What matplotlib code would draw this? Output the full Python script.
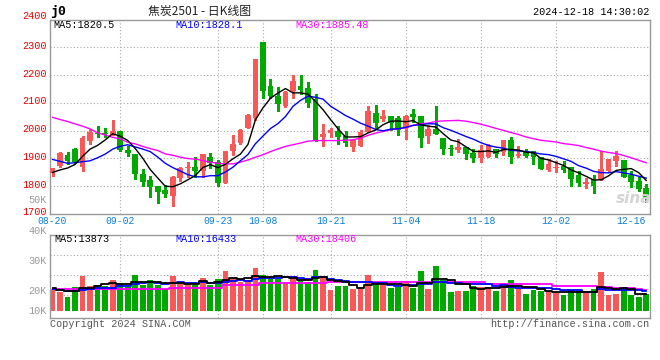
import numpy as np
import pandas as pd
import matplotlib
matplotlib.use("Agg")
import matplotlib.pyplot as plt
import matplotlib.transforms as mtransforms

# ---------------- data ----------------
holidays = ["2024-09-16", "2024-09-17", "2024-10-01", "2024-10-02", "2024-10-03",
            "2024-10-04", "2024-10-07"]
dates = [d for d in pd.bdate_range("2024-08-20", "2024-12-18").strftime("%Y-%m-%d")
         if d not in holidays]

open_ = [1846, 1873, 1913, 1935, 1867, 1961, 1990, 1992, 1984, 2000,
         1931, 1916, 1843, 1823, 1800, 1785, 1764, 1829, 1866, 1868,
         1853, 1903, 1885, 1811, 1925, 1954, 2008, 2045, 2321, 2160,
         2125, 2089, 2143, 2160, 2154, 2113, 1976, 1990, 2000, 1982,
         1941, 1943, 1995, 2064, 2043, 2051, 2046, 2009, 2060, 2051,
         1980, 2004, 1974, 1938, 1929, 1941, 1920, 1902, 1903, 1932,
         1923, 1965, 1909, 1926, 1926, 1905, 1857, 1866, 1872, 1867,
         1838, 1806, 1825, 1822, 1854, 1890, 1893, 1838, 1818, 1794]
high = [1866, 1924, 1922, 1937, 1982, 2006, 2018, 2010, 2037, 2000,
        1946, 1916, 1861, 1837, 1800, 1805, 1836, 1868, 1888, 1904,
        1916, 1918, 1894, 1928, 1985, 2004, 2060, 2257, 2321, 2187,
        2157, 2143, 2199, 2199, 2176, 2133, 2023, 2011, 2017, 2000,
        1968, 2001, 2090, 2094, 2076, 2054, 2051, 2057, 2078, 2051,
        2019, 2087, 1974, 1947, 1968, 1941, 1935, 1947, 1953, 1932,
        1965, 1977, 1944, 1932, 1926, 1905, 1899, 1890, 1891, 1867,
        1854, 1830, 1838, 1926, 1897, 1927, 1893, 1854, 1833, 1807]
low = [1835, 1867, 1879, 1882, 1855, 1951, 1976, 1977, 1984, 1928,
       1910, 1825, 1801, 1761, 1737, 1761, 1729, 1818, 1832, 1832,
       1832, 1865, 1799, 1811, 1913, 1952, 2008, 2038, 2119, 2119,
       2071, 2085, 2119, 2131, 2085, 1964, 1943, 1976, 1952, 1946,
       1926, 1943, 1995, 2007, 2034, 2003, 1983, 1971, 2031, 1941,
       1955, 1986, 1917, 1911, 1923, 1896, 1885, 1885, 1903, 1905,
       1911, 1884, 1903, 1905, 1881, 1860, 1854, 1851, 1851, 1801,
       1801, 1794, 1774, 1822, 1849, 1872, 1833, 1798, 1783, 1744]
close = [1864, 1919, 1892, 1886, 1975, 1994, 1987, 1988, 2000, 1930,
         1918, 1842, 1813, 1795, 1777, 1770, 1832, 1865, 1868, 1853,
         1916, 1884, 1811, 1928, 1951, 2002, 2057, 2257, 2143, 2125,
         2095, 2139, 2178, 2145, 2101, 1964, 1988, 2002, 1976, 1954,
         1965, 1995, 2069, 2027, 2051, 2027, 2001, 2054, 2048, 1973,
         2004, 1986, 1932, 1935, 1941, 1915, 1902, 1929, 1947, 1915,
         1965, 1905, 1917, 1908, 1905, 1863, 1878, 1868, 1857, 1825,
         1810, 1815, 1801, 1861, 1897, 1908, 1833, 1816, 1788, 1756]
volume = [19600, 16900, 12400, 21400, 31300, 22300, 23200, 22300, 27700, 25000,
          21400, 32200, 23200, 27700, 23200, 19600, 31300, 25000, 23200, 23200,
          29500, 23200, 28600, 35800, 29500, 25900, 27700, 38500, 32200, 28600,
          28600, 25000, 31300, 26800, 25900, 36700, 31300, 18700, 22300, 22300,
          19600, 21400, 32200, 23200, 23200, 20500, 21400, 26800, 20500, 35800,
          19600, 40300, 27700, 16900, 17800, 17800, 22300, 21400, 21400, 17800,
          25000, 27700, 19600, 15100, 18700, 17800, 17800, 16000, 14200, 18700,
          17800, 16000, 19600, 34900, 14200, 15100, 19600, 14200, 12400, 15100]

ma5_head = [1849, 1858, 1865, 1878]
ma10_head = [1896, 1889, 1882, 1884, 1888, 1891, 1902, 1915, 1933]
ma30 = [2048, 2040, 2033, 2024, 2016, 2006, 1992, 1984, 1976, 1970,
        1958, 1952, 1943, 1935, 1928, 1916, 1911, 1904, 1899, 1897,
        1892, 1886, 1882, 1880, 1880, 1886, 1894, 1904, 1913, 1924,
        1934, 1943, 1949, 1955, 1962, 1964, 1964, 1964, 1964, 1965,
        1967, 1973, 1983, 1991, 1997, 2003, 2007, 2010, 2019, 2025,
        2027, 2033, 2035, 2036, 2037, 2034, 2029, 2023, 2016, 2008,
        2001, 1993, 1986, 1977, 1971, 1965, 1962, 1959, 1953, 1950,
        1946, 1939, 1933, 1926, 1921, 1917, 1910, 1902, 1893, 1884]
vma5_head = [20200, 18500, 18000, 18200]
vma10_head = [19600, 19000, 18200, 18200, 18400, 19800, 20200, 20200, 20400]
vma30 = [19300, 19300, 19300, 19300, 19300, 19300, 19300, 19400, 19400, 19400,
         19400, 19500, 19500, 19500, 19500, 19500, 20800, 20800, 20800, 20800,
         20800, 20800, 20800, 22900, 22900, 22900, 22900, 22900, 24700, 24700,
         24700, 24700, 24700, 24700, 24700, 24700, 24700, 26200, 26200, 26200,
         26200, 26200, 26200, 26200, 26200, 26200, 26200, 26200, 26200, 26200,
         26200, 26200, 26200, 26200, 26200, 26200, 26200, 26200, 23800, 23800,
         23800, 23800, 23800, 23800, 23800, 23800, 23800, 22300, 22300, 22300,
         22300, 22300, 22300, 21000, 21000, 20200, 20200, 20200, 19300, 18400]

price_ticks = [1700, 1800, 1900, 2000, 2100, 2200, 2300, 2400]
date_ticks = ["08-20", "09-02", "09-23", "10-08", "10-21", "11-04", "11-18", "12-02", "12-16"]
vol_tick_labels = ["50K", "40K", "30K", "20K", "10K"]
ma_price_labels = ["MA5:1820.5", "MA10:1828.1", "MA30:1885.48"]
ma_vol_labels = ["MA5:13873", "MA10:16433", "MA30:18406"]
title_text = "焦炭2501 - 日K线图"
symbol_text = "j0"
stamp_text = "2024-12-18 14:30:02"

# ---------------- derived ----------------
o = np.array(open_, float); h = np.array(high, float)
l = np.array(low, float); c = np.array(close, float)
v = np.array(volume, float)
n = len(c)
x = np.arange(n)

ma5 = pd.Series(c).rolling(5).mean().to_numpy()
ma5[:len(ma5_head)] = ma5_head
ma10 = pd.Series(c).rolling(10).mean().to_numpy()
ma10[:len(ma10_head)] = ma10_head
vma5 = pd.Series(v).rolling(5).mean().to_numpy()
vma5[:len(vma5_head)] = vma5_head
vma10 = pd.Series(v).rolling(10).mean().to_numpy()
vma10[:len(vma10_head)] = vma10_head

up = c >= o
RED = "#f85858"
GRN = "#00a800"
cols = np.where(up, RED, GRN)

# ---------------- figure ----------------
W, H = 660, 360
fig = plt.figure(figsize=(W / 100, H / 100), dpi=100)
fig.patch.set_facecolor("white")

def fx(px):
    return px / W

def fy(py):
    return 1 - py / H

MONO = ["Liberation Mono", "DejaVu Sans Mono"]
GRID = dict(color="#a8a8a8", lw=0.8, ls=(0, (1, 2)))
FRAME = "#999999"

ax = fig.add_axes([fx(50.5), fy(214), (649.5 - 50.5) / W, (214 - 19.5) / H])
vax = fig.add_axes([fx(50.5), fy(317.7), (649.5 - 50.5) / W, (317.7 - 234.7) / H])

xlim = (-0.27, 79.44)
for a in (ax, vax):
    a.set_xlim(*xlim)
    a.set_xticks([])
    a.set_yticks([])
    for s in a.spines.values():
        s.set_color(FRAME)
        s.set_linewidth(1.0)

ax.set_ylim(1699, 2401)
vax.set_ylim(-6400, 68800)

# grid
tick_idx = [i for i, d in enumerate(dates) if d[5:] in date_ticks]
for i in tick_idx:
    if 0 < i < 75:
        ax.axvline(i, **GRID, zorder=0)
        vax.axvline(i, **GRID, zorder=0)
for p in price_ticks[1:-1]:
    ax.axhline(p, **GRID, zorder=0)
for gv in [13900, 31900, 50100]:
    vax.axhline(gv, **GRID, zorder=0)

# candles
bw = 0.76
body_lo = np.minimum(o, c)
body_h = np.maximum(np.abs(c - o), 3.6)
ax.vlines(x, l, h, colors=cols, lw=1.0, zorder=2, antialiased=False)
ax.bar(x, body_h, bottom=body_lo, width=bw, color=cols, lw=0, zorder=3,
       antialiased=False)

# MAs
ax.plot(x, ma30, color="#ff00ff", lw=1.0, zorder=4)
ax.plot(x, ma10, color="#0000ff", lw=1.0, zorder=5)
ax.plot(x, ma5, color="#000000", lw=1.0, zorder=6)

# volume
vax.bar(x, v, width=bw, color=cols, lw=0, zorder=2, antialiased=False)
vax.plot(x, vma30, color="#ff00ff", lw=1.3, drawstyle="steps-mid", zorder=3)
vax.plot(x, vma10, color="#0000ff", lw=1.3, drawstyle="steps-mid", zorder=4)
vax.plot(x, vma5, color="#000000", lw=1.3, drawstyle="steps-mid", zorder=5)

# price labels
ytr = ax.get_yaxis_transform()
for p in price_ticks:
    off = 4.0 if p == price_ticks[-1] else 1.5
    tr = mtransforms.offset_copy(ytr, fig=fig, x=-3.8, y=off, units="dots")
    ax.text(0, p, str(p), transform=tr, ha="right", va="center",
            color="#e60000", fontsize=7.3, family=MONO)

# volume axis labels
for lab, py in zip(vol_tick_labels, [200, 231, 261.3, 290.7, 310.7]):
    fig.text(fx(46.7), fy(py), lab, ha="right", va="center", color="#999999",
             fontsize=7.3, family=MONO)

# date labels
xtr = ax.get_xaxis_transform()
for i in tick_idx:
    ax.text(i, -(220.7 - 214) / 194.5, dates[i][5:], transform=xtr, ha="center",
            va="center", color="#0b7fd4", fontsize=7.0, family=MONO)

# legends
for lab, px, col in zip(ma_price_labels, [53.3, 175, 295], ["#000000", "#0000ff", "#ff00ff"]):
    fig.text(fx(px), fy(24.5), lab, ha="left", va="center", color=col,
             fontsize=7.3, family=MONO)
for lab, px, col in zip(ma_vol_labels, [54, 175, 295], ["#000000", "#0000ff", "#ff00ff"]):
    fig.text(fx(px), fy(238.5), lab, ha="left", va="center", color=col,
             fontsize=7.3, family=MONO)

# header
fig.text(fx(50.5), fy(11), symbol_text, ha="left", va="center", color="#000000",
         fontsize=9.5, fontweight="bold", family=["DejaVu Sans Mono"])
fig.text(fx(200), fy(11), title_text, ha="center", va="center", color="#222222",
         fontsize=8.6, family=["Noto Sans CJK SC", "DejaVu Sans"])
fig.text(fx(649), fy(12), stamp_text, ha="right", va="center", color="#000000",
         fontsize=7.3, family=MONO)

# footer
fig.text(fx(50), fy(324), "Copyright 2024 SINA.COM", ha="left", va="center",
         color="#555555", fontsize=7.3, family=MONO)
fig.text(fx(649), fy(324), "http://finance.sina.com.cn", ha="right", va="center",
         color="#555555", fontsize=7.3, family=MONO)

# watermark
fig.text(fx(634), fy(198), "sina", ha="center", va="center", color="#d4d4d4",
         fontsize=11, fontweight="bold", style="italic", family=["DejaVu Sans"],
         zorder=1)

fig.savefig("out.png", dpi=100, facecolor="white")
